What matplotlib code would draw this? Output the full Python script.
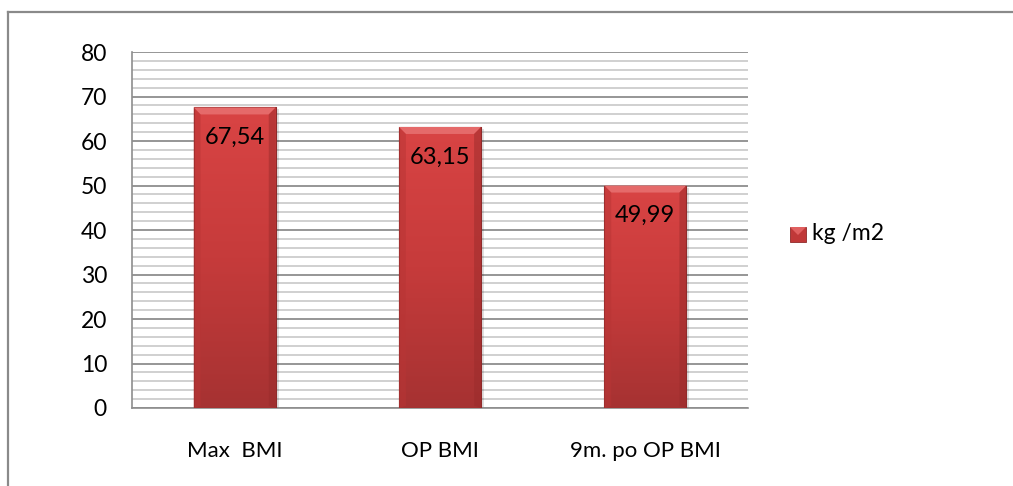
import numpy as np
import matplotlib
matplotlib.use("Agg")
import matplotlib.pyplot as plt
from matplotlib.patches import Rectangle, Polygon
from matplotlib.lines import Line2D
from matplotlib.colors import LinearSegmentedColormap

categories = ["Max  BMI", "OP BMI", "9m. po OP BMI"]
values = [67.54, 63.15, 49.99]
value_labels = ["67,54", "63,15", "49,99"]
series_name = "kg /m2"
y_ticks = [0, 10, 20, 30, 40, 50, 60, 70, 80]

plt.rcParams["font.family"] = ["Lato", "DejaVu Sans"]

W, H, DPI = 1013, 486, 100
fig = plt.figure(figsize=(W / DPI, H / DPI), dpi=DPI)
fig.patch.set_facecolor("white")

# chart frame (top and left edges; the rest runs off the canvas)
fig.add_artist(Line2D([8 / W, 1.0], [1 - 12 / H, 1 - 12 / H], transform=fig.transFigure,
                      color="#8a8a8a", linewidth=1.6))
fig.add_artist(Line2D([8 / W, 8 / W], [0.0, 1 - 12 / H], transform=fig.transFigure,
                      color="#8a8a8a", linewidth=1.6))

left, right, top, bottom = 132, 748, 52, 408
ax = fig.add_axes([left / W, 1 - bottom / H, (right - left) / W, (bottom - top) / H])
ax.set_xlim(-0.5, len(categories) - 0.5)
ax.set_ylim(0, 80)

# gridlines: minor every 2, major every 10
for y in np.arange(0, 81, 2):
    if y % 10 == 0:
        ax.axhline(y, color="#8e8e8e", linewidth=1.3, zorder=1)
    else:
        ax.axhline(y, color="#c4c4c4", linewidth=1.1, zorder=1)

for s in ["top", "right"]:
    ax.spines[s].set_visible(False)
ax.spines["left"].set_color("#8e8e8e")
ax.spines["bottom"].set_color("#8e8e8e")
ax.spines["left"].set_linewidth(1.2)
ax.spines["bottom"].set_linewidth(1.2)

ax.set_yticks(y_ticks)
ax.set_yticklabels([str(t) for t in y_ticks], fontsize=16.5)
ax.set_xticks(range(len(categories)))
ax.set_xticklabels(categories, fontsize=16)
ax.tick_params(axis="both", length=0, colors="black")
ax.tick_params(axis="y", pad=18)
ax.tick_params(axis="x", pad=24)

bar_w = 0.4
bars = ax.bar(range(len(categories)), values, width=bar_w, color="none",
              edgecolor="#8f2a2a", linewidth=0.8, zorder=4, label=series_name)

cmap = LinearSegmentedColormap.from_list("bar", ["#a63232", "#c63b3b", "#d94444"])
grad = np.linspace(0, 1, 256).reshape(-1, 1)

# pixel sizes in data units
px_x = (len(categories)) / (right - left)
px_y = 80 / (bottom - top)
bev = 7

for i, (b, v) in enumerate(zip(bars, values)):
    x0 = b.get_x()
    x1 = x0 + b.get_width()
    # soft shadow
    ax.add_patch(Rectangle((x0 + 3 * px_x, 0), b.get_width(), v - 2 * px_y,
                           facecolor="#000000", alpha=0.12, edgecolor="none", zorder=2))
    im = ax.imshow(grad, extent=[x0, x1, 0, v], origin="lower", cmap=cmap,
                   aspect="auto", zorder=3, interpolation="bicubic")
    im.set_clip_path(b)
    # bevelled top edge
    ax.add_patch(Polygon([[x0, v], [x1, v], [x1 - bev * px_x, v - bev * px_y],
                          [x0 + bev * px_x, v - bev * px_y]],
                         closed=True, facecolor="#e56a6a", edgecolor="none", zorder=4))
    ax.add_patch(Polygon([[x0, v], [x0 + bev * px_x, v - bev * px_y],
                          [x0 + bev * px_x, bev * px_y * 0.3], [x0, 0]],
                         closed=True, facecolor="#b83535", alpha=0.5, edgecolor="none", zorder=4))
    ax.add_patch(Polygon([[x1, v], [x1 - bev * px_x, v - bev * px_y],
                          [x1 - bev * px_x, bev * px_y * 0.3], [x1, 0]],
                         closed=True, facecolor="#9a2c2c", alpha=0.5, edgecolor="none", zorder=4))
    ax.text(i, v - 30 * px_y, value_labels[i], ha="center", va="center",
            fontsize=17, color="black", zorder=6)

ax.set_xlim(-0.5, len(categories) - 0.5)
ax.set_ylim(0, 80)

# legend entry
fig.add_artist(Rectangle((790 / W, 1 - 242 / H), 16 / W, 15 / H, transform=fig.transFigure,
                         facecolor="#c03838", edgecolor="#8f2a2a", linewidth=0.6))
fig.add_artist(Polygon([[790 / W, 1 - 227 / H], [806 / W, 1 - 227 / H],
                        [798 / W, 1 - 235 / H]], closed=True, transform=fig.transFigure,
                       facecolor="#e06060", edgecolor="none"))
fig.text(812 / W, 1 - 234 / H, series_name, fontsize=16.5, va="center", ha="left")

fig.savefig("out.png", dpi=DPI)
